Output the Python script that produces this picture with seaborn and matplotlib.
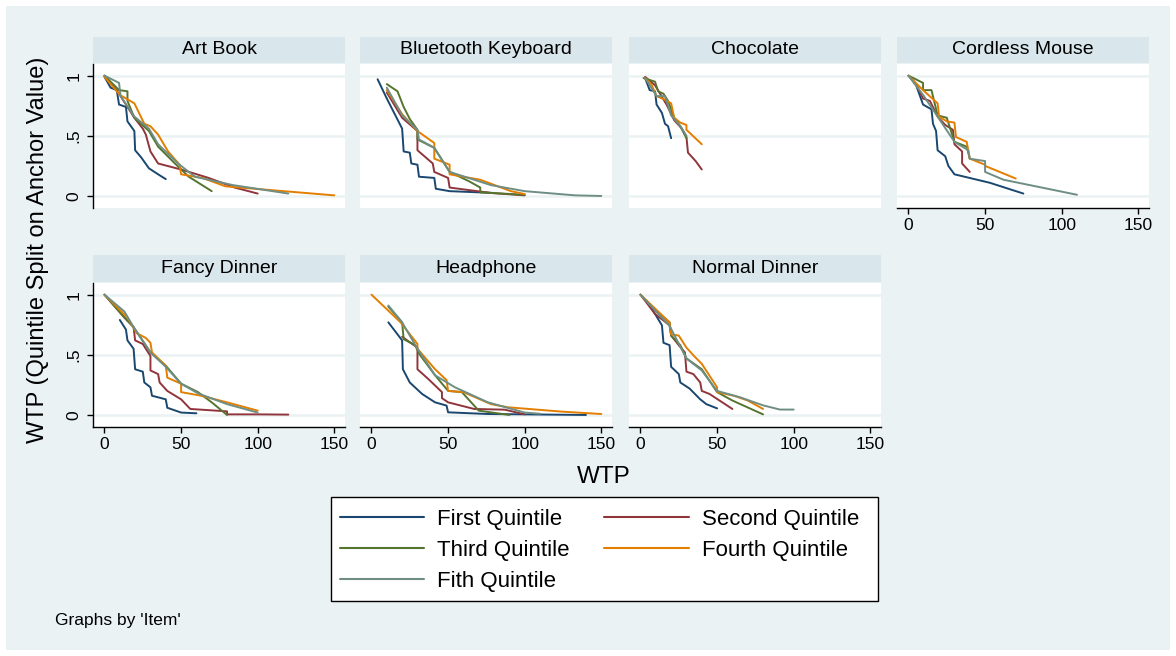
import matplotlib
matplotlib.use("Agg")
import matplotlib.pyplot as plt
import seaborn as sns
import pandas as pd
from matplotlib.lines import Line2D
from matplotlib.patches import Rectangle

# ---------------- data ----------------
items = ["Art Book", "Bluetooth Keyboard", "Chocolate", "Cordless Mouse",
         "Fancy Dinner", "Headphone", "Normal Dinner"]
quintiles = ["First Quintile", "Second Quintile", "Third Quintile",
             "Fourth Quintile", "Fith Quintile"]
x_ticks = [0, 50, 100, 150]
y_ticks = [0, 0.5, 1]
y_tick_labels = ["0", ".5", "1"]

# (WTP, share) pairs per item and quintile
art_q1 = [(0, .99), (4, .90), (8, .88), (9.5, .76), (14, .74), (15, .62), (19.5, .54), (20, .38), (24, .32), (29, .23), (35, .18), (40, .14)]
art_q2 = [(0, 1), (4, .94), (9.5, .85), (19.5, .65), (25, .56), (27, .51), (30, .37), (35, .27), (41, .25), (50, .22), (68, .15), (85, .07), (100, .02)]
art_q3 = [(0, 1), (9.5, .88), (15, .87), (15, .79), (19.5, .65), (29, .54), (35, .41), (46, .27), (55, .16), (70, .04)]
art_q4 = [(0, .99), (10, .84), (19.5, .77), (26, .60), (30, .58), (35, .51), (41.5, .37), (49, .26), (50, .18), (64, .15), (79, .08), (117, .04), (150, .005)]
art_q5 = [(0, 1), (9.5, .94), (10.5, .83), (19.5, .66), (29, .56), (35, .43), (48, .27), (59, .16), (84, .09), (120, .02)]

bt_q1 = [(4, .97), (10, .81), (20, .56), (21, .37), (25, .36), (26, .27), (30, .26), (31, .16), (41, .15), (42, .06), (51, .04), (80, .025)]
bt_q2 = [(10, .86), (20, .65), (30, .54), (30, .38), (40, .27), (41, .20), (50, .15), (51, .07), (78, .025), (100, .005)]
bt_q3 = [(10, .93), (17, .87), (21, .74), (25, .64), (30, .55), (30, .47), (41, .40), (51, .20), (64, .12), (71, .07), (71, .03), (100, .01)]
bt_q4 = [(10, .88), (20, .68), (30, .54), (41, .44), (41, .31), (51, .26), (51, .18), (71, .135), (91, .04), (100, .016)]
bt_q5 = [(10, .90), (20, .67), (30, .55), (31, .47), (41, .40), (51, .20), (78, .09), (100, .04), (133, .005), (150, 0)]

choc_q1 = [(3, .98), (6, .88), (9.5, .87), (10.5, .76), (14, .69), (16, .60), (18, .58), (20, .48)]
choc_q2 = [(3, .99), (9.5, .92), (17, .76), (22, .63), (27, .56), (30, .49), (31, .36), (36, .29), (40, .22)]
choc_q3 = [(2, .98), (9.5, .95), (11.5, .87), (15, .85), (18, .79), (22, .65), (26, .58), (30, .48)]
choc_q4 = [(3, .98), (7, .93), (10.5, .83), (16, .80), (20, .77), (22, .65), (26, .61), (30, .59), (30, .55), (40, .43)]
choc_q5 = [(3, .98), (10.5, .83), (16, .83), (20, .67), (26, .58), (30, .50)]

cm_q1 = [(1, .99), (5, .92), (9.5, .76), (15, .72), (16, .60), (18, .54), (19, .38), (24, .33), (26, .25), (30, .18), (53, .11), (75, .02)]
cm_q2 = [(0, 1), (5, .93), (9.5, .81), (14, .79), (19, .66), (24, .59), (29, .55), (30, .43), (35, .37), (35, .27), (40, .20)]
cm_q3 = [(0, 1), (9.5, .94), (9.5, .88), (15, .88), (19, .67), (25, .65), (30, .45), (38, .41), (40, .31)]
cm_q4 = [(0, 1), (9.5, .88), (19, .77), (20, .66), (25, .62), (30, .61), (31, .49), (38, .45), (40, .31), (50, .26), (50, .25), (70, .145)]
cm_q5 = [(0, 1), (9.5, .84), (19, .66), (30, .45), (39, .38), (40, .31), (50, .29), (50, .20), (62, .135), (110, .01)]

fd_q1 = [(10, .79), (14, .71), (15, .62), (19, .55), (20, .38), (25, .36), (26, .27), (30, .23), (31, .16), (40, .13), (41, .06), (50, .02), (60, .014)]
fd_q2 = [(0, 1), (13, .81), (19, .73), (20, .62), (25, .59), (30, .49), (30, .37), (35, .34), (36, .27), (41, .20), (50, .13), (56, .05), (80, .03), (80, .005), (100, .005), (120, .003)]
fd_q3 = [(0, 1), (13, .81), (19, .73), (30, .52), (40, .41), (50, .26), (61, .19), (70, .105), (80, 0)]
fd_q4 = [(0, 1), (15, .81), (21, .68), (27, .64), (30, .60), (31, .52), (40, .41), (41, .31), (50, .26), (50, .19), (63, .16), (80, .105), (100, .036)]
fd_q5 = [(0, 1), (13, .86), (19, .73), (30, .52), (40, .40), (50, .26), (61, .18), (80, .09), (100, .02)]

hp_q1 = [(11, .77), (20, .62), (20.5, .38), (25, .27), (33, .175), (41.5, .105), (49, .078), (50, .022), (76, .008), (140, 0)]
hp_q2 = [(20, .65), (30, .56), (30, .38), (37, .30), (46, .19), (46, .14), (50, .105), (67, .05), (87, .044), (100, .005)]
hp_q3 = [(11, .90), (20, .77), (21, .63), (28.5, .58), (31, .51), (41.5, .33), (50, .20), (59, .19), (70, .036), (90, 0)]
hp_q4 = [(0, 1), (19, .77), (30, .59), (30, .55), (41.5, .38), (49, .29), (50, .20), (60, .19), (78, .09), (89, .064), (124, .028), (150, .008)]
hp_q5 = [(11, .91), (20, .77), (30, .55), (41.5, .33), (54.5, .23), (76, .105), (100, .02), (110, .01)]

nd_q1 = [(4, .95), (9.5, .84), (14, .745), (15, .60), (19, .58), (20, .40), (25, .34), (26, .27), (32, .22), (39, .13), (43, .09), (50, .055)]
nd_q2 = [(0, 1), (9.5, .84), (19, .745), (20, .66), (25, .58), (29, .52), (30, .36), (34.5, .34), (39, .27), (40, .20), (45, .175), (60, .05)]
nd_q3 = [(0, 1), (9.5, .87), (19, .77), (20, .66), (26, .58), (30, .47), (40, .38), (50, .19), (60, .12), (80, .005)]
nd_q4 = [(0, 1), (19, .77), (20, .67), (25, .66), (30, .56), (35, .49), (40, .425), (50, .23), (50, .19), (61, .16), (70, .12), (80, .05)]
nd_q5 = [(0, 1), (19, .74), (30, .47), (40, .37), (50, .20), (65, .147), (80, .08), (91, .045), (100, .045)]

series = {
    "Art Book": [art_q1, art_q2, art_q3, art_q4, art_q5],
    "Bluetooth Keyboard": [bt_q1, bt_q2, bt_q3, bt_q4, bt_q5],
    "Chocolate": [choc_q1, choc_q2, choc_q3, choc_q4, choc_q5],
    "Cordless Mouse": [cm_q1, cm_q2, cm_q3, cm_q4, cm_q5],
    "Fancy Dinner": [fd_q1, fd_q2, fd_q3, fd_q4, fd_q5],
    "Headphone": [hp_q1, hp_q2, hp_q3, hp_q4, hp_q5],
    "Normal Dinner": [nd_q1, nd_q2, nd_q3, nd_q4, nd_q5],
}

rows = []
for item in items:
    for q, pts in zip(quintiles, series[item]):
        for i, (x, y) in enumerate(pts):
            rows.append({"item": item, "quintile": q, "wtp": x, "share": y, "order": i})
df = pd.DataFrame(rows)

# ---------------- style ----------------
sns.set_theme(style="white")
plt.rcParams["font.family"] = ["Liberation Sans", "DejaVu Sans"]
plt.rcParams["text.color"] = "black"
plt.rcParams["axes.labelcolor"] = "black"
plt.rcParams["xtick.color"] = "black"
plt.rcParams["ytick.color"] = "black"

BG = "#eaf2f3"
STRIP = "#d9e6eb"
colors = ["#1a476f", "#90353b", "#55752f", "#e37e00", "#6e8e84"]
palette = dict(zip(quintiles, colors))

W, H = 1176, 656
fig = plt.figure(figsize=(W / 100, H / 100), dpi=100)
fig.patch.set_facecolor("white")
fig.patches.append(Rectangle((6 / W, 6 / H), 1 - 12 / W, 1 - 12 / H,
                             transform=fig.transFigure, facecolor=BG,
                             edgecolor="none", zorder=-10))

col_left = [93, 360, 629, 897]
pw = 252
row_strip = [(37, 63), (255, 282)]
row_plot = [(64, 208), (283, 427)]


def frac_rect(l, t, w, h):
    return [l / W, 1 - (t + h) / H, w / W, h / H]


for idx, item in enumerate(items):
    r, c = divmod(idx, 4)
    left = col_left[c]
    st, sb = row_strip[r]
    pt, pb = row_plot[r]

    sax = fig.add_axes(frac_rect(left, st, pw, sb - st))
    sax.set_facecolor(STRIP)
    sax.set_xticks([]); sax.set_yticks([])
    for s in sax.spines.values():
        s.set_visible(False)
    sax.text(0.5, 0.5, item, ha="center", va="center", fontsize=14,
             transform=sax.transAxes, color="black")

    ax = fig.add_axes(frac_rect(left, pt, pw, pb - pt))
    ax.set_facecolor("white")
    sub = df[df["item"] == item].sort_values(["quintile", "order"])
    for q in quintiles:
        d = sub[sub["quintile"] == q]
        sns.lineplot(data=d, x="wtp", y="share", color=palette[q], sort=False,
                     estimator=None, ax=ax, linewidth=1.4, legend=False)
    ax.set_xlim(-7.5, 157)
    ax.set_ylim(-0.1, 1.097)
    ax.set_xlabel(""); ax.set_ylabel("")
    ax.set_yticks(y_ticks)
    ax.set_xticks(x_ticks)
    ax.grid(False)
    for yv in y_ticks:
        ax.axhline(yv, color=BG, lw=1.8, zorder=0)

    show_y = (c == 0)
    show_x = (r == 1) or (idx == 3)
    for s in ["top", "right"]:
        ax.spines[s].set_visible(False)
    ax.spines["left"].set_visible(show_y)
    ax.spines["bottom"].set_visible(show_x)
    ax.spines["left"].set_color("black")
    ax.spines["bottom"].set_color("black")
    ax.spines["left"].set_linewidth(1.0)
    ax.spines["bottom"].set_linewidth(1.0)

    if show_y:
        ax.set_yticklabels(y_tick_labels, rotation=90, va="center", fontsize=12.5)
        ax.tick_params(axis="y", left=True, length=4.5, width=1, color="black", pad=4)
    else:
        ax.tick_params(axis="y", left=False, labelleft=False)
    if show_x:
        ax.set_xticklabels([str(v) for v in x_ticks], fontsize=12.5)
        ax.tick_params(axis="x", bottom=True, length=4.5, width=1, color="black", pad=3)
    else:
        ax.tick_params(axis="x", bottom=False, labelbottom=False)

fig.text(604 / W, 1 - 477 / H, "WTP", ha="center", va="center", fontsize=17.5)
fig.text(38 / W, 1 - 250 / H, "WTP (Quintile Split on Anchor Value)",
         ha="center", va="center", rotation=90, fontsize=17)
fig.text(55 / W, 1 - 621 / H, "Graphs by 'Item'", ha="left", va="center", fontsize=12.5)

# legend box
fig.patches.append(Rectangle((331 / W, 1 - 601 / H), (878 - 331) / W, (601 - 497) / H,
                             transform=fig.transFigure, facecolor="white",
                             edgecolor="black", linewidth=1.0, zorder=1))
order = [0, 2, 4, 1, 3]  # row-wise reading order in a 2-column legend
handles = [Line2D([0], [0], color=colors[i], lw=1.5) for i in order]
labels = [quintiles[i] for i in order]
leg = fig.legend(handles, labels, ncol=2, loc="upper left",
                 bbox_to_anchor=(333 / W, 1 - 502 / H), frameon=False,
                 fontsize=16, handlelength=3.8, handletextpad=0.6,
                 columnspacing=1.55, labelspacing=0.45, borderpad=0.3,
                 borderaxespad=0)
leg.set_zorder(5)

fig.savefig("out.png", dpi=100, facecolor=fig.get_facecolor())
